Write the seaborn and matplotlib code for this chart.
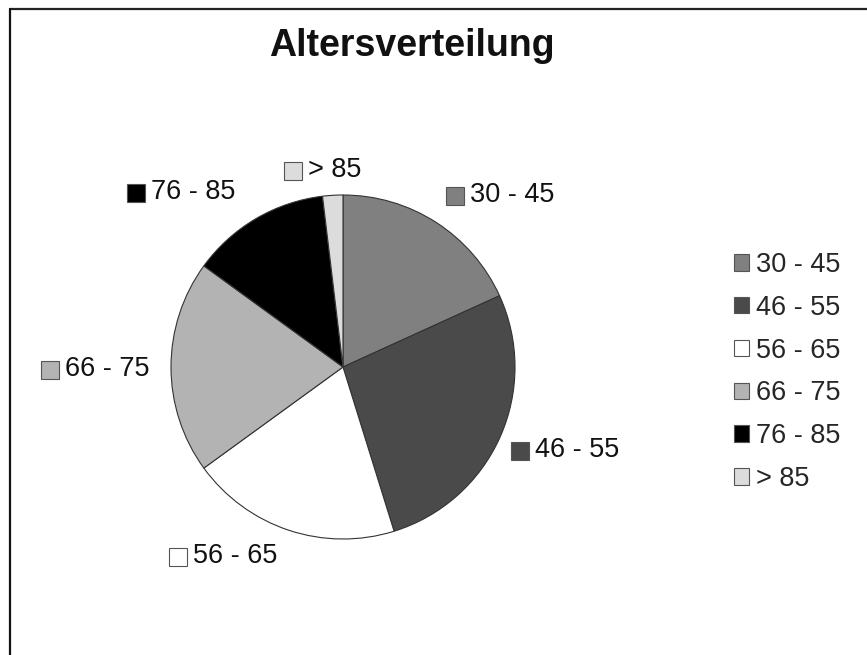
import matplotlib
matplotlib.use("Agg")
import matplotlib.pyplot as plt
import seaborn as sns
from matplotlib.patches import Patch, Rectangle
from matplotlib.offsetbox import HPacker, DrawingArea, TextArea, AnnotationBbox
from matplotlib.lines import Line2D

# ---- data ----
categories = ["30 - 45", "46 - 55", "56 - 65", "66 - 75", "76 - 85", "> 85"]
shares = [18.2, 27.0, 19.8, 20.0, 13.1, 1.9]
colors = ["#808080", "#4a4a4a", "#ffffff", "#b3b3b3", "#000000", "#dcdcdc"]
title = "Altersverteilung"

sns.set_theme(style="white")
plt.rcParams["font.family"] = ["Liberation Sans", "DejaVu Sans"]

W, H = 867, 655
fig = plt.figure(figsize=(W / 100, H / 100), dpi=100)
fig.patch.set_facecolor("white")

# frame lines (top and left visible)
fig.add_artist(Line2D([10 / W, 1], [1 - 9 / H, 1 - 9 / H], color="#222222", lw=1.6,
                      transform=fig.transFigure))
fig.add_artist(Line2D([10 / W, 10 / W], [0, 1 - 9 / H], color="#111111", lw=1.6,
                      transform=fig.transFigure))

cx, cy, r = 343, 367, 172
ax = fig.add_axes([(cx - r) / W, (H - cy - r) / H, 2 * r / W, 2 * r / H])
wedges, _ = ax.pie(shares, colors=colors, startangle=90, counterclock=False,
                   radius=1.0,
                   wedgeprops=dict(edgecolor="#333333", linewidth=0.8))
ax.set_xlim(-1, 1)
ax.set_ylim(-1, 1)
ax.set_aspect("equal")
ax.axis("off")

fs = 19.5
# data labels (layout positions in figure pixels: left edge of key, vertical centre)
label_pos = [(446, 195), (511, 450), (169, 556), (41, 369), (127, 192), (284, 170)]
for cat, col, (lx, ly) in zip(categories, colors, label_pos):
    da = DrawingArea(14, 14, 0, 0)
    da.add_artist(Rectangle((0, 0), 13, 13, facecolor=col, edgecolor="#555555", lw=0.8))
    ta = TextArea(cat, textprops=dict(fontsize=fs, color="#111111"))
    pack = HPacker(children=[da, ta], align="center", pad=0, sep=3)
    ab = AnnotationBbox(pack, (lx / W, 1 - ly / H), xycoords="figure fraction",
                        box_alignment=(0, 0.5), frameon=False, pad=0)
    fig.add_artist(ab)

# legend
handles = [Patch(facecolor=c, edgecolor="#555555", linewidth=0.8) for c in colors]
fig.legend(handles, categories, loc="center left",
           bbox_to_anchor=(734 / W, 1 - 372 / H), frameon=False,
           fontsize=fs, handlelength=0.55, handleheight=0.55,
           handletextpad=0.25, labelspacing=0.62, borderpad=0, borderaxespad=0)

fig.text(412 / W, 1 - 46 / H, title, ha="center", va="center",
         fontsize=27, fontweight="bold", color="#111111")

fig.savefig("out.png", dpi=100)
